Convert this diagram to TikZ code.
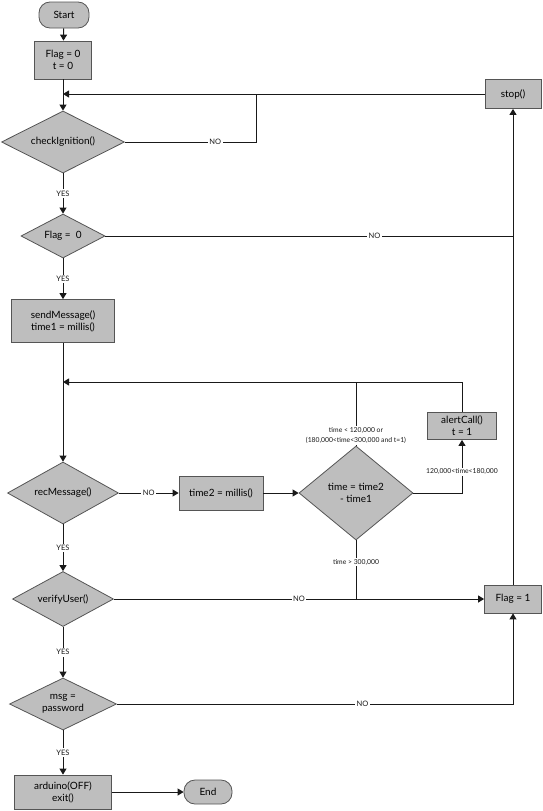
\documentclass[tikz,border=0pt]{standalone}
\usepackage{fontspec}
\setmainfont{Lato}
\usepackage{tikz}
\usetikzlibrary{arrows.meta,shapes.geometric,calc}
\definecolor{boxfill}{RGB}{190,190,190}
\definecolor{boxline}{RGB}{85,85,85}
\definecolor{wire}{RGB}{25,25,25}
\tikzset{
    proc/.style={draw=boxline, fill=boxfill, line width=0.8pt, align=center, inner sep=1pt, font=\fontsize{10}{12}\selectfont},
    term/.style={proc, rounded corners=11pt},
    dec/.style={diamond, draw=boxline, fill=boxfill, line width=0.8pt, align=center, inner sep=0pt, shape aspect=2, font=\fontsize{10}{12}\selectfont},
    lbl/.style={fill=white, inner sep=1.5pt, font=\fontsize{7.5}{9}\selectfont},
    cnd/.style={fill=white, inner sep=1pt, align=center, font=\fontsize{6.8}{10.5}\selectfont}
}
\begin{document}
\begin{tikzpicture}[x=1pt, y=-1pt, >={Triangle[length=6pt,width=7pt]}, line width=1pt]
\useasboundingbox (0,0) rectangle (543,811);
\node[term, minimum width=50, minimum height=26] (start) at (64,15) {Start};
\node[proc, minimum width=57, minimum height=38] (init) at (63,60) {Flag = 0\\t = 0};
\node[dec, minimum width=123, minimum height=62] (chk) at (63,142) {checkIgnition()};
\node[dec, minimum width=84, minimum height=44] (flg0) at (63,236) {Flag =\ \ 0};
\node[proc, minimum width=103, minimum height=43] (send) at (63,321) {sendMessage()\\time1 = millis()};
\node[dec, minimum width=111, minimum height=62] (rec) at (63,493) {recMessage()};
\node[proc, minimum width=84, minimum height=34] (tm2) at (221,493) {time2 = millis()};
\node[dec, shape aspect=1.2, minimum width=114, minimum height=94] (tim) at (356,493) {time = time2\\- time1};
\node[proc, minimum width=69, minimum height=27] (alert) at (462,426) {alertCall()\\t = 1};
\node[dec, minimum width=101, minimum height=55] (ver) at (63,599) {verifyUser()};
\node[dec, minimum width=107, minimum height=52] (msg) at (63,704) {msg =\\password};
\node[proc, minimum width=97, minimum height=34] (ard) at (63,792) {arduino(OFF)\\exit()};
\node[term, minimum width=48, minimum height=24] (fin) at (208,792) {End};
\node[proc, minimum width=56, minimum height=29] (stop) at (513,94) {stop()};
\node[proc, minimum width=57, minimum height=28] (flg1) at (513,599) {Flag = 1};
\coordinate (j1) at (63,94);
\coordinate (k1) at (256,94);
\coordinate (j2) at (63,382);
\draw[wire]
(start) edge[->] (init)
(init) edge[->] (chk)
(send) edge[->] (rec)
(stop.west) edge[->] (j1)
(flg1.north) edge[->] (stop.south)
(rec.east) edge[->] node[lbl] {NO} (tm2.west)
(tm2.east) edge[->] (tim.west)
(ver.east) edge[->] node[lbl] {NO} (flg1.west)
(ard.east) edge[->] (fin.west);
\draw[wire] (chk.east) -- node[lbl, pos=0.69] {NO} (chk.east -| k1) -- (k1);
\draw[wire] (flg0.east) -- node[lbl, pos=0.66] {NO} (flg0.east -| stop);
\draw[wire] (tim.north) -- node[cnd, pos=0.16] {time \textless{} 120,000 or\\(180,000\textless{}time\textless{}300,000 and t=1)} (tim.north |- j2);
\draw[wire] (tim.south) -- node[cnd, pos=0.37] {time \textgreater{} 300,000} (tim.south |- ver);
\draw[wire, ->] (alert.north) |- (j2);
\draw[wire, ->] (tim.east) -| node[cnd, pos=0.7] {120,000\textless{}time\textless{}180,000} (alert.south);
\draw[wire, ->] (msg.east) -| node[lbl, pos=0.31] {NO} (flg1.south);
\foreach \a/\b in {chk/flg0, flg0/send, rec/ver, ver/msg, msg/ard} {
    \draw[wire, ->] (\a.south) -- node[lbl] {YES} (\b.north);
}
\end{tikzpicture}
\end{document}
